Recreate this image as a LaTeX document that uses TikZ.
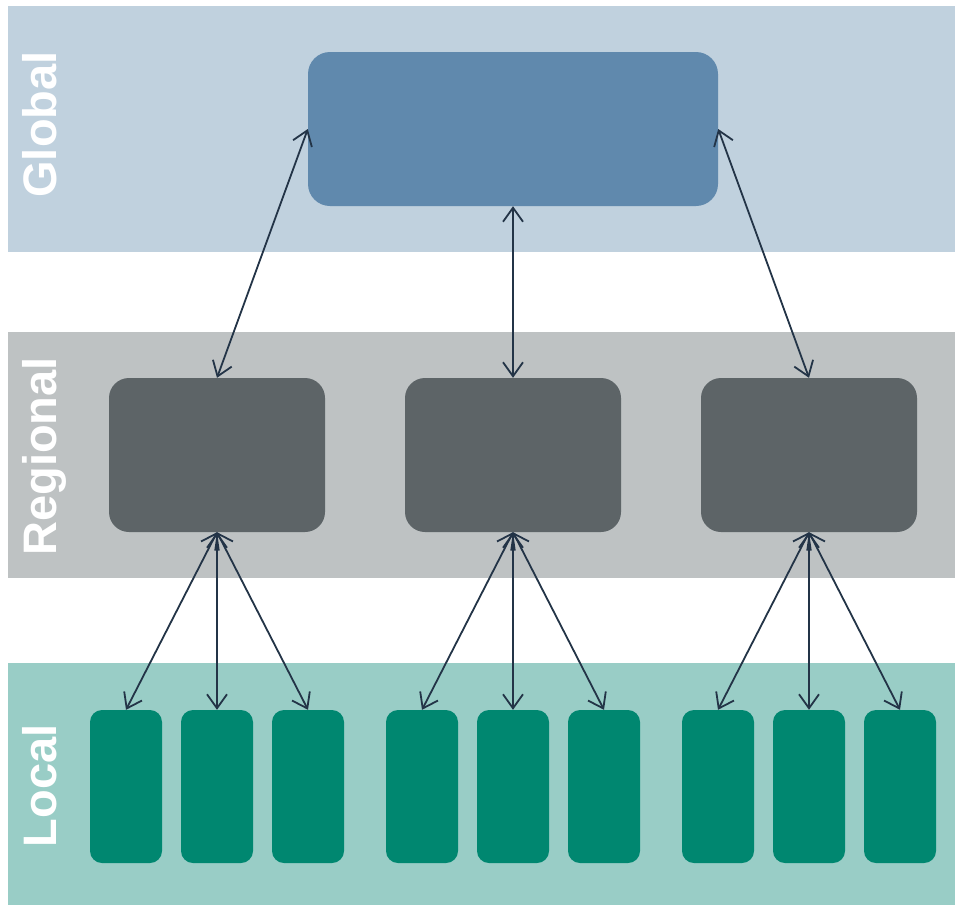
\documentclass[tikz,border=0pt]{standalone}
\usepackage{fontspec}
\setmainfont{Liberation Sans}
\usepackage{xcolor}
\usepackage{tikz}
\usetikzlibrary{arrows.meta}

\definecolor{globalband}{HTML}{C0D1DE}
\definecolor{globalfill}{HTML}{6089AD}
\definecolor{regionband}{HTML}{BEC2C3}
\definecolor{regionfill}{HTML}{5D6467}
\definecolor{localband}{HTML}{99CDC6}
\definecolor{localfill}{HTML}{008770}
\definecolor{linkcol}{HTML}{233447}

\tikzset{
  globbox/.style={fill=globalfill, rounded corners=22pt, minimum width=410pt, minimum height=154pt, inner sep=0pt},
  regbox/.style={fill=regionfill, rounded corners=20pt, minimum width=216pt, minimum height=154pt, inner sep=0pt},
  locbox/.style={fill=localfill, rounded corners=12pt, minimum width=72pt, minimum height=153pt, inner sep=0pt},
  tierlabel/.style={rotate=90, anchor=base, text=white, inner sep=0pt, font=\bfseries\fontsize{47}{47}\selectfont},
  link/.style={draw=linkcol, line width=1.8pt, {Straight Barb[length=14pt,width=20pt]}-{Straight Barb[length=14pt,width=20pt]}}
}

\begin{document}
\begin{tikzpicture}[x=1pt,y=-1pt]
\useasboundingbox (0,0) rectangle (955,905);

% tiers
\fill[globalband] (8,6) rectangle (955,252);
\fill[regionband] (8,332) rectangle (955,578);
\fill[localband] (8,663) rectangle (955,905);

\node[tierlabel] (lblglobal) at (56,124.5) {Global};
\node[tierlabel] (lblregional) at (56,456.5) {Regional};
\node[tierlabel] (lbllocal) at (56,786) {Local};

% boxes
\node[globbox] (glob) at (513,129) {};

\node[regbox] (reg1) at (217,455) {};
\node[regbox] (reg2) at (513,455) {};
\node[regbox] (reg3) at (809,455) {};

\node[locbox] (loc11) at (126,786.5) {};
\node[locbox] (loc12) at (217,786.5) {};
\node[locbox] (loc13) at (308,786.5) {};
\node[locbox] (loc21) at (422,786.5) {};
\node[locbox] (loc22) at (513,786.5) {};
\node[locbox] (loc23) at (604,786.5) {};
\node[locbox] (loc31) at (718,786.5) {};
\node[locbox] (loc32) at (809,786.5) {};
\node[locbox] (loc33) at (900,786.5) {};

% links
\draw[link] (glob.west) -- (reg1.north);
\draw[link] (glob.south) -- (reg2.north);
\draw[link] (glob.east) -- (reg3.north);

\draw[link] (reg1.south) -- (loc11.north);
\draw[link] (reg1.south) -- (loc12.north);
\draw[link] (reg1.south) -- (loc13.north);
\draw[link] (reg2.south) -- (loc21.north);
\draw[link] (reg2.south) -- (loc22.north);
\draw[link] (reg2.south) -- (loc23.north);
\draw[link] (reg3.south) -- (loc31.north);
\draw[link] (reg3.south) -- (loc32.north);
\draw[link] (reg3.south) -- (loc33.north);
\end{tikzpicture}
\end{document}
